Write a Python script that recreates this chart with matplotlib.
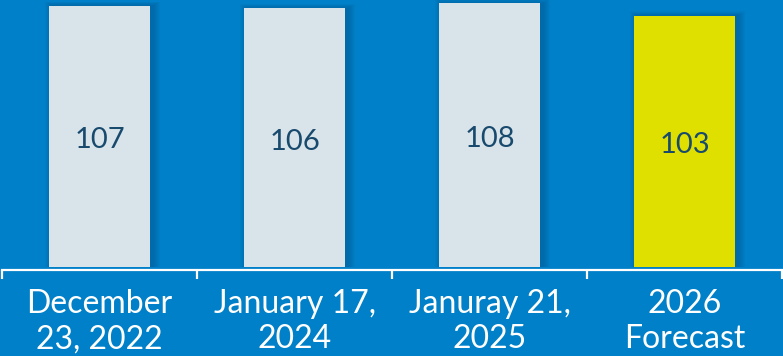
import matplotlib
matplotlib.use("Agg")
import matplotlib.pyplot as plt
import numpy as np

# bar data
labels = ["December\n23, 2022", "January 17,\n2024", "Januray 21,\n2025", "2026\nForecast"]
values = [107, 106, 108, 103]
colors = ["#d9e3ea", "#d9e3ea", "#d9e3ea", "#e0e000"]

bg = "#0080c8"
navy = "#184a6e"

plt.rcParams['font.family'] = ['Lato', 'DejaVu Sans']

fig = plt.figure(figsize=(7.83, 3.56), dpi=100)
fig.patch.set_facecolor(bg)
ax = fig.add_axes([2 / 783, 86 / 356, 780 / 783, 270 / 356])
ax.set_facecolor(bg)

x = np.arange(len(values))
bw = 0.52
px = 4 / 780  # one pixel in data units along x

# soft shadow on the right of each bar
for i in range(1, 8):
    ax.bar(x + 3 * px, np.array(values) + i * 0.25, width=bw + 2 * i * px,
           color="#003a66", alpha=0.045, zorder=1)

ax.bar(x, values, width=bw, color=colors, zorder=2)

# value labels in the middle of each bar (nudged down a little)
for xi, v in zip(x, values):
    ax.text(xi, v / 2 - 1.6, str(v), ha="center", va="center", fontsize=21,
            color=navy, zorder=3)

ax.set_xlim(-0.5, 3.5)
ax.set_ylim(-1.2, 109.4)

for s in ["top", "right", "left"]:
    ax.spines[s].set_visible(False)
ax.spines["bottom"].set_color("white")
ax.spines["bottom"].set_linewidth(1.6)
ax.set_yticks([])

ax.set_xticks(x)
ax.set_xticklabels(labels, fontsize=23, color="white", linespacing=1.2)
ax.tick_params(axis="x", which="major", length=0, pad=14)
ax.set_xticks(np.arange(-0.5, 4.0, 1.0), minor=True)
ax.tick_params(axis="x", which="minor", length=6.5, width=1.6, color="white",
               direction="out")

fig.savefig("out.png", dpi=100, facecolor=bg)
